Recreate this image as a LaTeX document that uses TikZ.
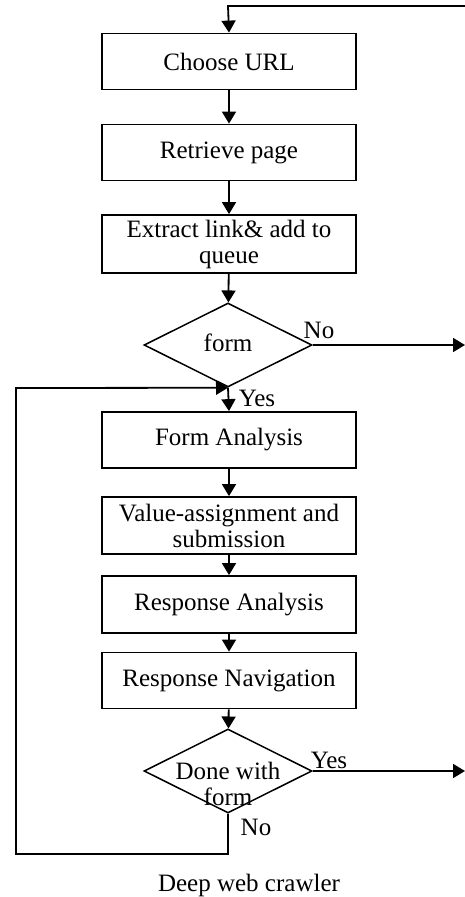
\documentclass[tikz,border=0pt]{standalone}
\usepackage{fontspec}
\setmainfont{Liberation Serif}
\usetikzlibrary{arrows.meta,shapes.geometric}
\begin{document}
\begin{tikzpicture}[x=1pt,y=-1pt,
  every node/.style={font=\fontsize{25}{26}\selectfont},
  box/.style={draw,line width=1.8pt,minimum width=254pt,minimum height=56pt,inner sep=0pt,align=center},
  dia/.style={draw,line width=1.5pt,diamond,minimum width=168pt,minimum height=84pt,inner sep=0pt},
  plain/.style={inner sep=0pt,align=center},
  conn/.style={line width=1.8pt},
  arr/.style={conn,-{Triangle[width=14pt,length=12pt]}}]
\useasboundingbox (0,0) rectangle (465,897);
\node[box] (b1) at (229,61.5) {Choose URL};
\node[box] (b2) at (229,152.5) {Retrieve page};
\node[box,minimum height=58pt] (b3) at (229,244) {Extract link\& add to\\queue};
\node[dia] (d1) at (228,345) {};
\node[plain] (d1t) at (228,343) {form};
\node[box] (b4) at (229,440) {Form Analysis};
\node[box,minimum height=57pt] (b5) at (229,525.5) {Value-assignment and\\submission};
\node[box,minimum height=57pt] (b6) at (229,604.5) {Response Analysis};
\node[box] (b7) at (229,680.5) {Response Navigation};
\node[dia] (d2) at (228,771) {};
\node[plain] (d2t) at (228,784) {Done with\\form};
\coordinate (topr) at (465,6);
\coordinate (topc) at (228,6);
\coordinate (nor) at (465,345);
\coordinate (yesr) at (465,771);
\coordinate (lb) at (16,854);
\coordinate (lt) at (16,388);
\node[plain] (lno1) at (319,330) {No};
\node[plain] (lyes1) at (257,398) {Yes};
\node[plain] (lyes2) at (329,760) {Yes};
\node[plain] (lno2) at (256,827) {No};
\node[plain] (cap) at (249,885) {Deep web crawler};
\draw[arr] (topr) -- (topc) -- (b1.north);
\draw[arr] (b1) -- (b2);
\draw[arr] (b2) -- (b3);
\draw[arr] (b3) -- (d1);
\draw[arr] (d1.east) -- (nor);
\draw[arr] (d1.south) -- (b4.north);
\draw[arr] (b4) -- (b5);
\draw[arr] (b5) -- (b6);
\draw[arr] (b6) -- (b7);
\draw[arr] (b7) -- (d2);
\draw[arr] (d2.east) -- (yesr);
\draw[arr] (d2.south) |- (lb) -- (lt) -- (d1.south);
\end{tikzpicture}
\end{document}
